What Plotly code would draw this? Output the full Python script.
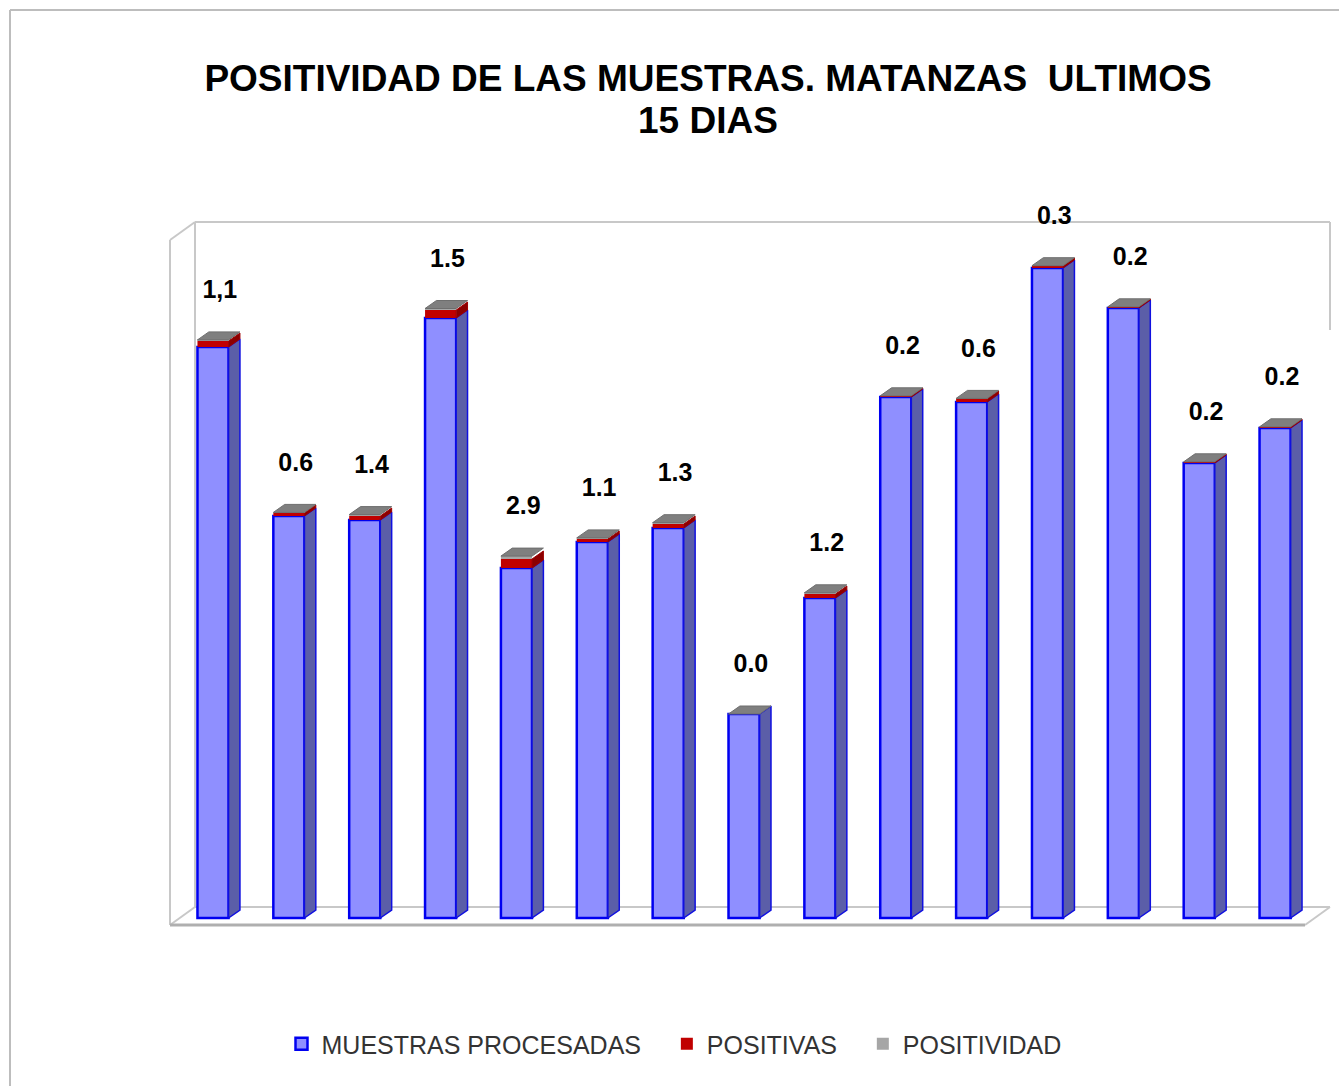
import plotly.graph_objects as go

# ---- data ----
dias = list(range(1, 16))
muestras = [571, 402, 398, 600, 350, 376, 390, 204, 320, 521, 516, 650, 610, 455, 490]
positivas = [6, 3, 4, 8, 9, 3, 4, 0, 4, 1, 3, 2, 1, 1, 1]
positividad = [1.1, 0.6, 1.4, 1.5, 2.9, 1.1, 1.3, 0.0, 1.2, 0.2, 0.6, 0.3, 0.2, 0.2, 0.2]
etiquetas = ["1,1", "0.6", "1.4", "1.5", "2.9", "1.1", "1.3", "0.0", "1.2", "0.2", "0.6", "0.3", "0.2", "0.2", "0.2"]
series = ["MUESTRAS PROCESADAS", "POSITIVAS", "POSITIVIDAD"]

# ---- style ----
W = 0.41      # front face width (category units)
D = 0.15      # depth shift in x
DY = 8        # depth shift in y
LABEL_PAD = 48
SP = "\u00a0" * 3

xs = [i for i in range(len(dias))]
tot = [m + p for m, p in zip(muestras, positivas)]
top = [t + g for t, g in zip(tot, positividad)]

fig = go.Figure()

# side faces (blue part)
sx, sy = [], []
for x, m in zip(xs, muestras):
    r = x + W / 2
    sx += [r, r + D, r + D, r, r, None]
    sy += [0, DY, m + DY, m, 0, None]
fig.add_trace(go.Scatter(x=sx, y=sy, fill="toself", mode="lines",
                         fillcolor="#5B5EA8", line=dict(color="#1010E0", width=1.5),
                         showlegend=False, hoverinfo="skip"))
# side faces (red part)
rx, ry = [], []
for x, m, t in zip(xs, muestras, tot):
    if t > m:
        r = x + W / 2
        rx += [r, r + D, r + D, r, r, None]
        ry += [m, m + DY, t + DY, t, m, None]
fig.add_trace(go.Scatter(x=rx, y=ry, fill="toself", mode="lines",
                         fillcolor="#8B0000", line=dict(color="#A00000", width=1),
                         showlegend=False, hoverinfo="skip"))

# front faces
fig.add_trace(go.Bar(x=xs, y=muestras, base=0, width=W, name=series[0] + SP,
                     marker=dict(color="#8F8FFF", line=dict(color="#0000F0", width=2.5))))
fig.add_trace(go.Bar(x=xs, y=positivas, base=muestras, width=W, name=series[1] + SP,
                     marker=dict(color="#C00000", line=dict(width=0))))
fig.add_trace(go.Bar(x=xs, y=positividad, base=tot, width=W, name=series[2],
                     marker=dict(color="#A6A6A6", line=dict(width=0))))

# top faces
tx, ty = [], []
for x, t in zip(xs, top):
    l, r = x - W / 2, x + W / 2
    tx += [l, r, r + D, l + D, l, None]
    ty += [t, t, t + DY, t + DY, t, None]
fig.add_trace(go.Scatter(x=tx, y=ty, fill="toself", mode="lines",
                         fillcolor="#7F7F7F", line=dict(color="#6E6E6E", width=1),
                         showlegend=False, hoverinfo="skip"))

# labels
fig.add_trace(go.Scatter(x=[x + D * 0.6 for x in xs], y=[t + LABEL_PAD for t in top],
                         mode="text", text=etiquetas, cliponaxis=False,
                         textfont=dict(family="Liberation Sans, Arial", size=25, color="#000000",
                                       weight="bold"),
                         showlegend=False, hoverinfo="skip"))

# plot area: x 170..1310, y 190..925 px  (y: 1 unit = 1 px)
L, R, T, B = 170, 1310, 190, 925
YMIN = -7
YMAX = YMIN + (B - T)
def px(X): return (X - L) / (R - L)
def py(Y): return (B - Y) / (B - T)
g = "#C8C8C8"
def seg(x0, y0, x1, y1, color=g, width=2):
    return dict(type="line", xref="paper", yref="paper", x0=px(x0), y0=py(y0),
                x1=px(x1), y1=py(y1), line=dict(color=color, width=width), layer="below")
shapes = [
    seg(195, 222, 1330, 222), seg(195, 222, 195, 907), seg(1330, 222, 1330, 330),
    seg(170, 240, 195, 222), seg(170, 240, 170, 925),
    seg(195, 907, 1330, 907), seg(170, 925, 195, 907), seg(1305, 925, 1330, 907),
    seg(170, 925, 1305, 925, "#AFAFAF", 3),
    seg(10, 10, 1345, 10, "#BDBDBD", 2), seg(10, 10, 10, 1095, "#BDBDBD", 2),
]

fig.update_layout(
    width=1339, height=1086,
    margin=dict(l=L, r=1339 - R, t=T, b=1086 - B),
    paper_bgcolor="white", plot_bgcolor="rgba(0,0,0,0)",
    barmode="overlay",
    title=dict(text="POSITIVIDAD DE LAS MUESTRAS. MATANZAS  ULTIMOS",
               x=708 / 1339, xanchor="center", y=1 - 78 / 1086, yanchor="middle",
               font=dict(family="Liberation Sans, Arial", size=37, color="#000000", weight="bold")),
    annotations=[dict(text="15 DIAS", xref="paper", yref="paper", x=px(708), y=py(121),
                      xanchor="center", yanchor="middle", showarrow=False,
                      font=dict(family="Liberation Sans, Arial", size=37, color="#000000", weight="bold"))],
    xaxis=dict(range=[-0.567, 14.46], showticklabels=False, showgrid=False, zeroline=False, showline=False),
    yaxis=dict(range=[YMIN, YMAX], showticklabels=False, showgrid=False, zeroline=False, showline=False),
    legend=dict(orientation="h", x=674 / 1339, xref="container", xanchor="center",
                y=(1086 - 1044) / 1086, yref="container", yanchor="middle",
                font=dict(family="Liberation Sans, Arial", size=25, color="#333333"),
                itemwidth=30, tracegroupgap=0),
    shapes=shapes,
)

fig.write_html("out.html", config={"displayModeBar": False},
               post_script="document.body.style.margin='0';")
